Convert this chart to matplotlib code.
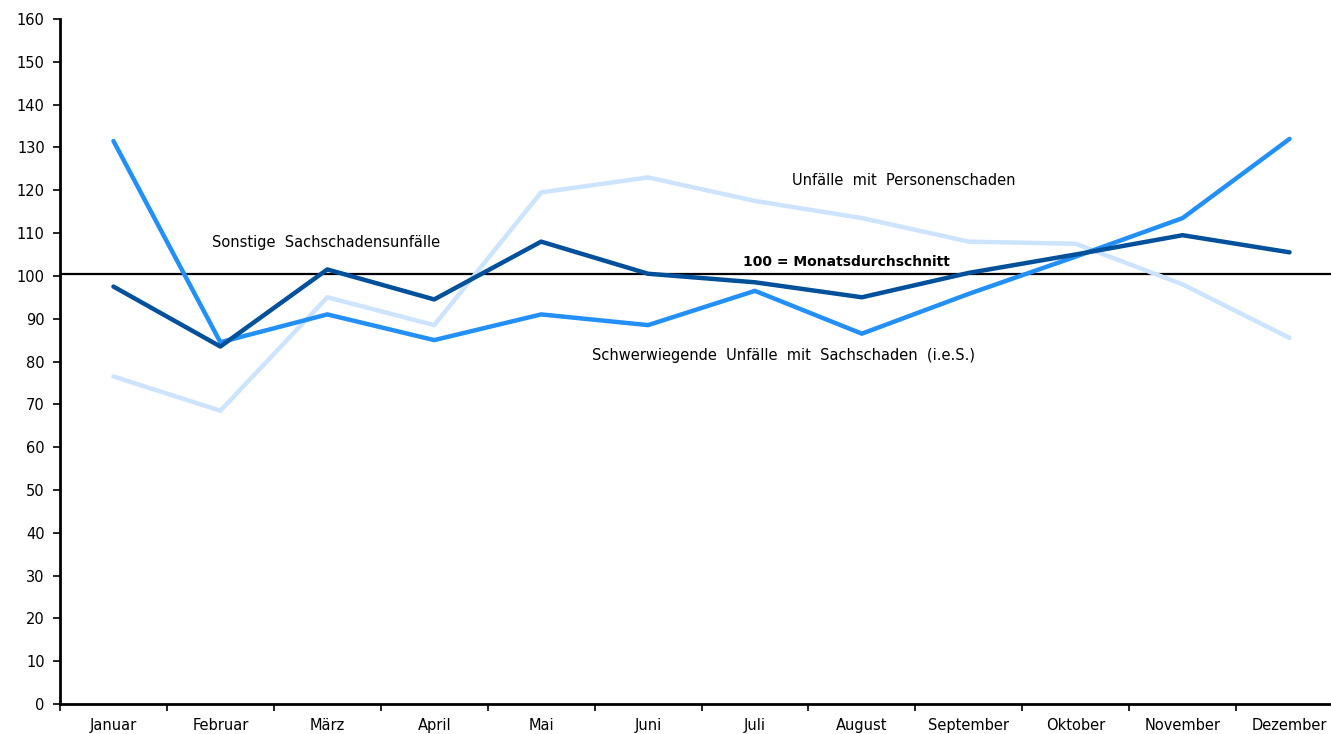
import matplotlib.pyplot as plt
import numpy as np

months = ['Januar', 'Februar', 'März', 'April', 'Mai', 'Juni', 'Juli',
          'August', 'September', 'Oktober', 'November', 'Dezember']

# index values, 100 = monthly average
personenschaden = [76.5, 68.5, 95.0, 88.5, 119.5, 123.0, 117.5, 113.5, 108.0, 107.5, 98.0, 85.5]
schwerwiegend = [131.5, 84.5, 91.0, 85.0, 91.0, 88.5, 96.5, 86.5, 95.8, 104.5, 113.5, 132.0]
sonstige = [97.5, 83.5, 101.5, 94.5, 108.0, 100.5, 98.5, 95.0, 100.7, 105.0, 109.5, 105.5]

plt.rcParams['font.family'] = ['DejaVu Sans']

fig = plt.figure(figsize=(13.31, 7.34), dpi=100)
# right edge of the axes runs slightly past the figure, as in the original
ax = fig.add_axes([60 / 1331, 30 / 734, 1283 / 1331, 685 / 734])

x = np.arange(len(months))
ax.axhline(100.4, color='black', lw=1.6, zorder=1)
ax.plot(x, personenschaden, color='#CCE4FF', lw=3.2, zorder=2, solid_capstyle='round')
ax.plot(x, schwerwiegend, color='#2290F8', lw=3.2, zorder=3, solid_capstyle='round')
ax.plot(x, sonstige, color='#00509C', lw=3.2, zorder=4, solid_capstyle='round')

ax.set_xlim(-0.5, 11.5)
ax.set_ylim(0, 160)
ax.set_yticks(range(0, 161, 10))
ax.set_xticks(x)
ax.set_xticklabels(months)
ax.set_xticks(np.arange(-0.5, 12, 1), minor=True)
ax.tick_params(axis='x', which='major', length=0, pad=10, labelsize=10.5)
ax.tick_params(axis='x', which='minor', length=5, width=1.2, direction='out')
ax.tick_params(axis='y', length=5, width=1.2, direction='out', labelsize=10.5, pad=6)

for s in ['top', 'right']:
    ax.spines[s].set_visible(False)
for s in ['left', 'bottom']:
    ax.spines[s].set_linewidth(2)

# series labels
ax.text(0.92, 107.9, 'Sonstige  Sachschadensunfälle', fontsize=10.5, va='center', ha='left')
ax.text(6.35, 122.2, 'Unfälle  mit  Personenschaden', fontsize=10.5, va='center', ha='left')
ax.text(5.89, 103.2, '100 = Monatsdurchschnitt', fontsize=10, fontweight='bold',
        va='center', ha='left')
ax.text(4.48, 81.5, 'Schwerwiegende  Unfälle  mit  Sachschaden  (i.e.S.)', fontsize=10.5,
        va='center', ha='left')

fig.savefig('out.png', dpi=100)
